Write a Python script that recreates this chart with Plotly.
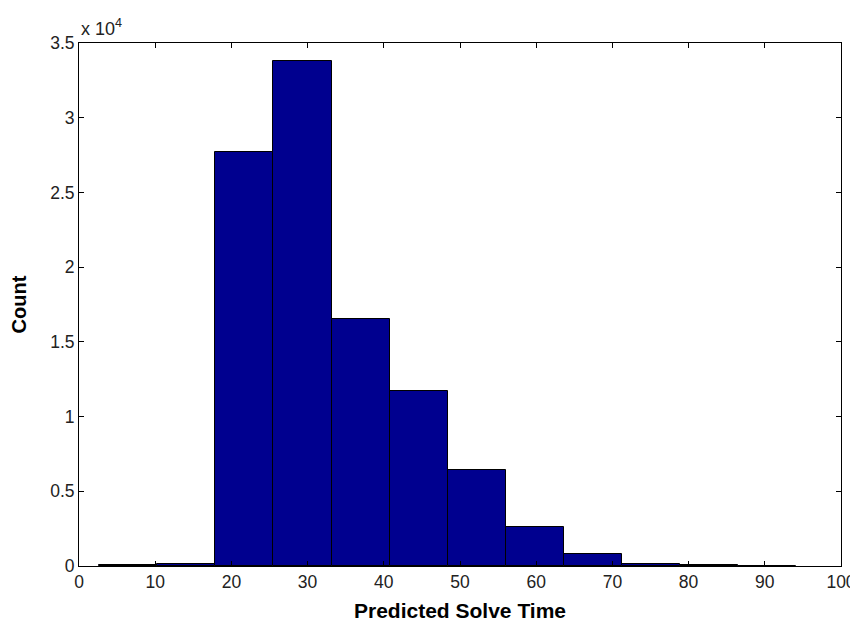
import plotly.graph_objects as go

# Histogram data
bin_centers = [6.47, 14.09, 21.71, 29.33, 36.95, 44.57, 52.19, 59.81, 67.43, 75.05, 82.67, 90.29]
bin_width = 7.62
counts = [40, 130, 27700, 33800, 16500, 11700, 6400, 2630, 820, 150, 50, 30]

x_ticks = [0, 10, 20, 30, 40, 50, 60, 70, 80, 90, 100]
y_tickvals = [0, 5000, 10000, 15000, 20000, 25000, 30000, 35000]
y_ticktext = ["0", "0.5", "1", "1.5", "2", "2.5", "3", "3.5"]

FONT = "Liberation Sans, Arial, Helvetica, sans-serif"

fig = go.Figure()
fig.add_trace(go.Bar(
    x=bin_centers,
    y=counts,
    width=[bin_width] * len(bin_centers),
    marker=dict(color="#00008F", line=dict(color="black", width=1)),
    showlegend=False,
))

axis_common = dict(
    showline=True, linecolor="black", linewidth=1, mirror="ticks",
    ticks="inside", ticklen=5, tickcolor="black", tickwidth=1,
    showgrid=False, zeroline=False, automargin=False,
    tickfont=dict(family=FONT, size=17.5, color="#222222"),
)

# the page body adds an 8px offset, so the figure is sized 8px smaller
fig.update_layout(
    width=850, height=618,
    margin=dict(l=71, r=17, t=35, b=60),
    paper_bgcolor="white", plot_bgcolor="white",
    bargap=0,
    xaxis=dict(
        range=[0, 100], tickvals=x_ticks,
        title=dict(text="<b>Predicted Solve Time</b>", font=dict(family=FONT, size=21, color="black"), standoff=12),
        **axis_common,
    ),
    yaxis=dict(
        range=[0, 35000], tickvals=y_tickvals, ticktext=y_ticktext,
        title=dict(text="<b>Count</b>", font=dict(family=FONT, size=20, color="black"), standoff=19),
        **axis_common,
    ),
    annotations=[dict(
        text="x 10<sup>4</sup>", xref="paper", yref="paper", x=0, y=1,
        xanchor="left", yanchor="bottom", showarrow=False, yshift=2,
        font=dict(family=FONT, size=18, color="#222222"),
    )],
)

fig.write_html("out.html")
